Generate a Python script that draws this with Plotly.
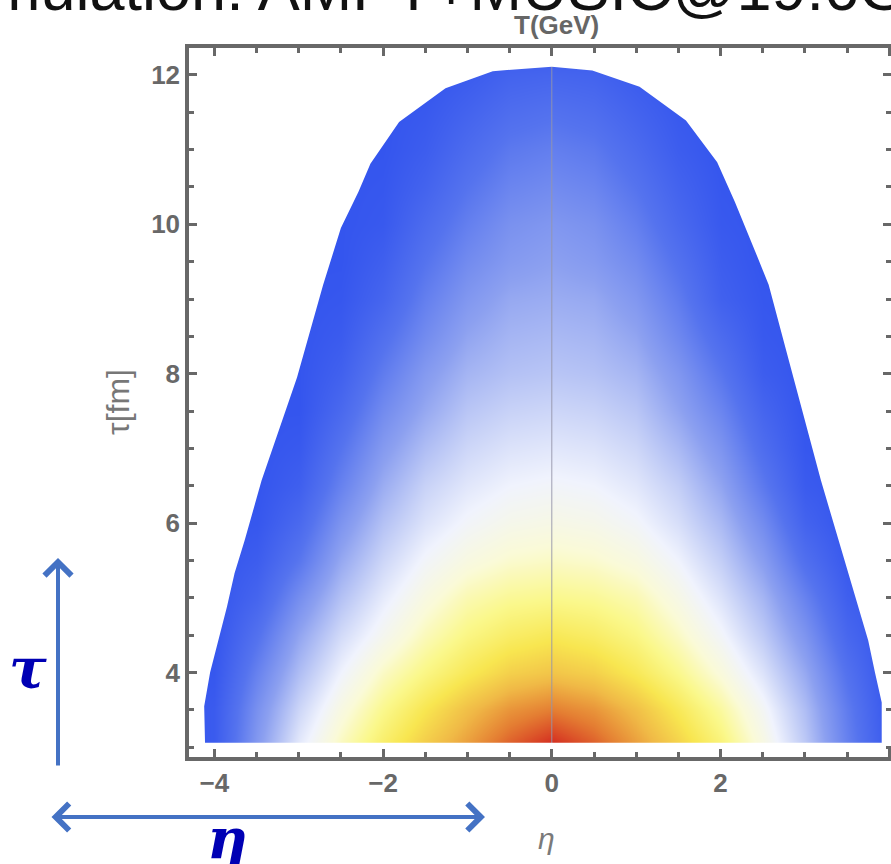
import plotly.graph_objects as go

# ---------------- data ----------------
eta_grid = [-4.5, -4.0, -3.5, -3.0, -2.5, -2.0, -1.5, -1.0, -0.5, 0.0,
            0.5, 1.0, 1.5, 2.0, 2.5, 3.0, 3.5, 4.0, 4.5]
tau_grid = [3.0, 3.5, 4.0, 4.5, 5.0, 5.5, 6.0, 6.5, 7.0, 7.5, 8.0,
            8.5, 9.0, 9.5, 10.0, 10.5, 11.0, 11.5, 12.0, 12.5]
# relative temperature (0 = coldest/blue, 1 = hottest/red), one row per tau
temp_rel = [
    [0, 0.03, 0.28, 0.48, 0.61, 0.71, 0.79, 0.86, 0.94, 1.00, 0.94, 0.86, 0.78, 0.69, 0.56, 0.40, 0.20, 0.02, 0],
    [0, 0.03, 0.25, 0.43, 0.56, 0.66, 0.74, 0.81, 0.87, 0.90, 0.87, 0.81, 0.73, 0.64, 0.52, 0.37, 0.18, 0.01, 0],
    [0, 0.01, 0.20, 0.37, 0.50, 0.60, 0.67, 0.73, 0.78, 0.80, 0.78, 0.73, 0.66, 0.57, 0.46, 0.32, 0.14, 0, 0],
    [0, 0, 0.14, 0.31, 0.44, 0.53, 0.61, 0.67, 0.71, 0.73, 0.71, 0.67, 0.60, 0.51, 0.40, 0.26, 0.09, 0, 0],
    [0, 0, 0.08, 0.24, 0.38, 0.48, 0.56, 0.62, 0.65, 0.66, 0.65, 0.62, 0.55, 0.46, 0.35, 0.20, 0.05, 0, 0],
    [0, 0, 0.04, 0.16, 0.32, 0.43, 0.51, 0.56, 0.59, 0.60, 0.59, 0.56, 0.50, 0.41, 0.29, 0.13, 0.02, 0, 0],
    [0, 0, 0.01, 0.10, 0.26, 0.38, 0.46, 0.51, 0.54, 0.55, 0.54, 0.51, 0.45, 0.36, 0.23, 0.07, 0, 0, 0],
    [0, 0, 0, 0.05, 0.20, 0.33, 0.42, 0.47, 0.50, 0.51, 0.50, 0.47, 0.41, 0.31, 0.17, 0.03, 0, 0, 0],
    [0, 0, 0, 0.02, 0.15, 0.28, 0.37, 0.43, 0.46, 0.47, 0.46, 0.43, 0.36, 0.26, 0.12, 0.01, 0, 0, 0],
    [0, 0, 0, 0, 0.10, 0.23, 0.32, 0.39, 0.42, 0.43, 0.42, 0.39, 0.31, 0.21, 0.08, 0, 0, 0, 0],
    [0, 0, 0, 0, 0.06, 0.18, 0.28, 0.35, 0.38, 0.39, 0.38, 0.35, 0.27, 0.16, 0.04, 0, 0, 0, 0],
    [0, 0, 0, 0, 0.03, 0.13, 0.23, 0.31, 0.35, 0.36, 0.35, 0.31, 0.22, 0.11, 0.02, 0, 0, 0, 0],
    [0, 0, 0, 0, 0.01, 0.08, 0.19, 0.27, 0.32, 0.33, 0.32, 0.27, 0.18, 0.06, 0.01, 0, 0, 0, 0],
    [0, 0, 0, 0, 0, 0.05, 0.15, 0.23, 0.28, 0.30, 0.28, 0.23, 0.14, 0.04, 0, 0, 0, 0, 0],
    [0, 0, 0, 0, 0, 0.02, 0.11, 0.19, 0.25, 0.27, 0.25, 0.19, 0.10, 0.02, 0, 0, 0, 0, 0],
    [0, 0, 0, 0, 0, 0.01, 0.07, 0.15, 0.21, 0.23, 0.21, 0.15, 0.07, 0.01, 0, 0, 0, 0, 0],
    [0, 0, 0, 0, 0, 0, 0.04, 0.11, 0.17, 0.19, 0.17, 0.11, 0.04, 0, 0, 0, 0, 0, 0],
    [0, 0, 0, 0, 0, 0, 0.02, 0.07, 0.12, 0.14, 0.12, 0.07, 0.02, 0, 0, 0, 0, 0, 0],
    [0, 0, 0, 0, 0, 0, 0, 0.03, 0.07, 0.08, 0.07, 0.03, 0, 0, 0, 0, 0, 0, 0],
    [0, 0, 0, 0, 0, 0, 0, 0, 0, 0, 0, 0, 0, 0, 0, 0, 0, 0, 0],
]

# outline of the region (left side bottom->top, right side top->bottom)
edge_left_eta = [-4.11, -4.12, -4.05, -3.85, -3.76, -3.64, -3.44, -3.02, -2.71, -2.50, -2.29, -2.15, -1.81, -1.26, -0.70, 0.0]
edge_left_tau = [3.06, 3.55, 4.00, 4.88, 5.33, 5.77, 6.57, 7.95, 9.19, 9.95, 10.44, 10.81, 11.37, 11.82, 12.05, 12.11]
edge_right_eta = [0.48, 1.04, 1.59, 1.96, 2.17, 2.46, 2.57, 2.78, 3.19, 3.47, 3.75, 3.83, 3.91, 3.91]
edge_right_tau = [12.06, 11.84, 11.39, 10.83, 10.30, 9.50, 9.19, 8.30, 6.57, 5.50, 4.43, 4.00, 3.60, 3.06]

x_ticks = [-4, -2, 0, 2, 4]
y_ticks = [4, 6, 8, 10, 12]
x_range = [-4.30, 4.02]
y_range = [2.87, 12.36]

# ---------------- figure ----------------
W, H = 891, 864
ML, MR, MT, MB = 189, 0, 48, 107
PW, PH = W - ML - MR, H - MT - MB


def px(x):
    return (x - ML) / PW


def py(y):
    return (H - MB - y) / PH


grey = "#686868"
colorscale = [
    [0.00, "rgb(52,85,238)"],
    [0.15, "rgb(85,115,238)"],
    [0.30, "rgb(140,160,240)"],
    [0.42, "rgb(200,210,247)"],
    [0.50, "rgb(240,243,253)"],
    [0.58, "rgb(250,250,215)"],
    [0.66, "rgb(250,248,140)"],
    [0.74, "rgb(248,230,80)"],
    [0.82, "rgb(240,185,70)"],
    [0.90, "rgb(228,125,50)"],
    [1.00, "rgb(210,35,30)"],
]

fig = go.Figure()
fig.add_trace(go.Heatmap(
    x=eta_grid, y=tau_grid, z=temp_rel, zmin=0, zmax=1,
    colorscale=colorscale, zsmooth="best", showscale=False, hoverinfo="skip",
))
# thin reference line at eta = 0
fig.add_trace(go.Scatter(
    x=[0, 0], y=y_range, mode="lines",
    line=dict(color="rgba(150,150,170,0.9)", width=1),
    hoverinfo="skip", showlegend=False,
))
# white mask outside the outline (outer frame + hole along the outline)
dome_x = edge_left_eta + edge_right_eta
dome_y = edge_left_tau + edge_right_tau
mask_x = [x_range[0], x_range[1], x_range[1], x_range[0], x_range[0]] + dome_x + [dome_x[0], x_range[0]]
mask_y = [y_range[0], y_range[0], y_range[1], y_range[1], y_range[0]] + dome_y + [dome_y[0], y_range[0]]
fig.add_trace(go.Scatter(
    x=mask_x, y=mask_y, mode="lines", fill="toself", fillcolor="white",
    line=dict(width=0, color="white"), hoverinfo="skip", showlegend=False,
))

tickfont = dict(family="Liberation Sans", size=26, color=grey, weight="bold")
common = dict(
    ticks="inside", ticklen=8, tickwidth=3, tickcolor=grey,
    showline=True, linecolor=grey, linewidth=3.5, mirror="ticks",
    showgrid=False, zeroline=False, tickfont=tickfont,
)
fig.update_xaxes(range=x_range, tickvals=x_ticks, ticklabelstandoff=0,
                 minor=dict(ticks="inside", ticklen=5, tickwidth=2.5, tickcolor=grey, dtick=0.5, tick0=0),
                 **common)
fig.update_yaxes(range=y_range, tickvals=y_ticks, ticklabelstandoff=0,
                 minor=dict(ticks="inside", ticklen=5, tickwidth=2.5, tickcolor=grey, dtick=0.5, tick0=0),
                 **common)

blue_arrow = "#4472c4"
dark_blue = "#0000b4"
annotations = [
    dict(text="Simulation: AMPT+MUSIC@19.6GeV", x=px(-70), y=py(25), xanchor="left", yanchor="bottom",
         showarrow=False, font=dict(family="Liberation Sans", size=63, color="#111111")),
    dict(text="T(GeV)", x=px(556), y=py(25), xanchor="center", yanchor="middle", showarrow=False,
         font=dict(family="Liberation Sans", size=26, color="#666666", weight="bold")),
    dict(text="τ[fm]", x=px(118), y=py(402), xanchor="center", yanchor="middle", showarrow=False,
         textangle=-90, font=dict(family="Liberation Sans", size=32, color="#777777")),
    dict(text="η", x=px(546), y=py(838), xanchor="center", yanchor="middle", showarrow=False,
         font=dict(family="Liberation Sans", size=30, color="#7a7a7a", style="italic")),
    dict(text="τ", x=px(28), y=py(668), xanchor="center", yanchor="middle", showarrow=False,
         font=dict(family="DejaVu Serif", size=56, color=dark_blue, style="italic", weight="bold")),
    dict(text="η", x=px(227), y=py(838), xanchor="center", yanchor="middle", showarrow=False,
         font=dict(family="DejaVu Serif", size=56, color=dark_blue, style="italic", weight="bold")),
    dict(text="", x=px(58), y=py(558), ax=0, ay=209, showarrow=True, arrowhead=4, arrowsize=1.3,
         arrowwidth=4, arrowcolor=blue_arrow, standoff=0, startstandoff=0),
    dict(text="", x=px(485), y=py(817), ax=-435, ay=0, showarrow=True, arrowhead=4, startarrowhead=4,
         arrowside="end+start", arrowsize=1.3, startarrowsize=1.3, arrowwidth=4, arrowcolor=blue_arrow,
         standoff=0, startstandoff=0),
]
for a in annotations:
    a.setdefault("xref", "paper")
    a.setdefault("yref", "paper")
fig.update_layout(
    width=W, height=H, margin=dict(l=ML, r=MR, t=MT, b=MB, autoexpand=False),
    paper_bgcolor="white", plot_bgcolor="white", showlegend=False,
    annotations=annotations,
)
fig.write_html("out.html")
